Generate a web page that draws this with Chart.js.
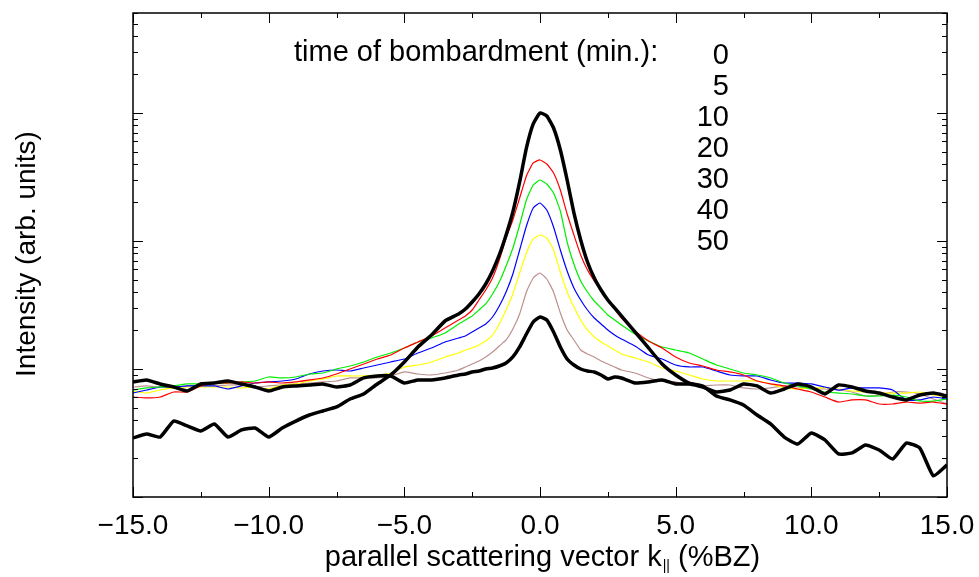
<!DOCTYPE html>
<html>
<head>
<meta charset="utf-8">
<script src="https://cdn.jsdelivr.net/npm/chart.js@4.4.0/dist/chart.umd.min.js"></script>
<style>
    html, body { margin: 0; padding: 0; background: #fff; }
</style>
</head>
<body>
<canvas id="myChart" width="979" height="577"></canvas>
<script>
// parallel scattering vector k (%BZ), shared by all curves
var kValues = [-15, -14.5, -14, -13.5, -13, -12.5, -12, -11.5, -11, -10.5, -10, -9.5, -9, -8.5, -8, -7.5,
    -7, -6.5, -6, -5.5, -5, -4.5, -4, -3.5,
    -3, -2.75, -2.5, -2.25, -2, -1.75, -1.5, -1.25, -1, -0.75, -0.5, -0.25, 0,
    0.25, 0.5, 0.75, 1, 1.25, 1.5, 1.75, 2, 2.25, 2.5, 2.75, 3,
    3.5, 4, 4.5, 5, 5.5, 6, 6.5, 7, 7.5, 8, 8.5, 9, 9.5, 10, 10.5, 11, 11.5, 12, 12.5, 13, 13.5, 14, 14.5, 15];

// intensity (arb. units) for each bombardment time
var int0 = [0.289, 0.311, 0.294, 0.392, 0.359, 0.328, 0.372, 0.294, 0.334, 0.346, 0.294, 0.346, 0.392, 0.437, 0.470, 0.505,
    0.583, 0.638, 0.764, 0.898, 1.134, 1.486, 1.843, 2.371,
    2.690, 2.943, 3.338, 3.855, 4.614, 5.830, 7.775, 11.14, 16.85, 28.90, 53.29, 82.04, 100,
    94.75, 76.35, 51.39, 29.95, 16.55, 10.18, 6.855, 5.140, 4.142, 3.460, 2.996, 2.595,
    1.946, 1.459, 1.094, 0.898, 0.777, 0.737, 0.615, 0.573, 0.523, 0.437, 0.372, 0.294, 0.259, 0.316, 0.279, 0.217, 0.221, 0.255, 0.233, 0.198, 0.264, 0.241, 0.146, 0.178];
var int5 = [0.604, 0.594, 0.604, 0.661, 0.661, 0.737, 0.777, 0.777, 0.792, 0.777, 0.792, 0.777, 0.792, 0.821, 0.851, 0.914,
    1.000, 1.094, 1.197, 1.286, 1.459, 1.625, 1.811, 2.091,
    2.414, 2.595, 2.890, 3.460, 4.142, 5.140, 7.106, 10.55, 14.59, 21.67, 32.19, 40.68, 42.94,
    39.96, 33.98, 25.02, 16.25, 11.14, 7.775, 5.936, 4.870, 4.142, 3.460, 2.943, 2.503,
    1.981, 1.655, 1.459, 1.241, 1.114, 1.055, 0.982, 0.948, 0.898, 0.806, 0.764, 0.737, 0.698, 0.661, 0.604, 0.552, 0.573, 0.573, 0.533, 0.533, 0.552, 0.542, 0.552, 0.533];
var int10 = [0.685, 0.711, 0.723, 0.737, 0.764, 0.764, 0.777, 0.777, 0.792, 0.806, 0.866, 0.851, 0.866, 0.914, 0.931, 1.000,
    1.055, 1.134, 1.241, 1.334, 1.459, 1.625, 1.747, 1.911,
    2.247, 2.414, 2.595, 2.890, 3.220, 3.855, 4.783, 6.378, 8.818, 13.34, 20.90, 27.38, 29.95,
    27.87, 23.71, 17.15, 9.823, 6.612, 4.870, 3.996, 3.398, 2.996, 2.642, 2.414, 2.207,
    1.877, 1.655, 1.486, 1.408, 1.334, 1.197, 1.075, 1.000, 0.931, 0.898, 0.851, 0.777, 0.737, 0.698, 0.661, 0.649, 0.638, 0.615, 0.615, 0.626, 0.604, 0.562, 0.562, 0.583];
var int20 = [0.649, 0.685, 0.723, 0.723, 0.737, 0.737, 0.737, 0.698, 0.737, 0.777, 0.792, 0.806, 0.835, 0.914, 0.965, 0.982,
    0.965, 1.018, 1.075, 1.134, 1.197, 1.334, 1.459, 1.625,
    1.747, 1.811, 1.946, 2.091, 2.247, 2.548, 3.106, 3.996, 5.524, 8.507, 13.10, 18.10, 19.81,
    17.46, 12.86, 8.507, 5.830, 4.294, 3.460, 2.890, 2.503, 2.247, 2.017, 1.843, 1.715,
    1.512, 1.286, 1.197, 1.075, 1.037, 1.037, 0.965, 0.898, 0.882, 0.882, 0.821, 0.777, 0.777, 0.764, 0.723, 0.685, 0.711, 0.711, 0.711, 0.685, 0.573, 0.573, 0.604, 0.583];
var int30 = [0.673, 0.649, 0.685, 0.711, 0.723, 0.723, 0.723, 0.723, 0.711, 0.723, 0.698, 0.750, 0.764, 0.806, 0.835, 0.882,
    0.882, 0.882, 0.898, 0.931, 1.037, 1.075, 1.134, 1.241,
    1.334, 1.408, 1.459, 1.540, 1.655, 1.843, 2.247, 2.890, 3.855, 5.624, 8.060, 10.37, 11.14,
    10.55, 8.507, 5.726, 3.996, 3.050, 2.414, 2.017, 1.778, 1.625, 1.512, 1.408, 1.310,
    1.219, 1.134, 1.018, 0.965, 0.898, 0.835, 0.806, 0.806, 0.806, 0.806, 0.764, 0.711, 0.698, 0.711, 0.711, 0.698, 0.673, 0.661, 0.649, 0.649, 0.649, 0.661, 0.626, 0.604];
var int40 = [0.723, 0.737, 0.723, 0.723, 0.737, 0.737, 0.737, 0.750, 0.750, 0.723, 0.737, 0.750, 0.764, 0.777, 0.792, 0.806,
    0.851, 0.851, 0.851, 0.882, 0.948, 0.914, 0.898, 0.931,
    0.982, 1.037, 1.094, 1.155, 1.241, 1.358, 1.512, 1.685, 2.054, 2.690, 3.996, 5.140, 5.624,
    5.048, 3.996, 2.738, 2.017, 1.685, 1.408, 1.310, 1.241, 1.155, 1.094, 1.037, 0.982,
    0.931, 0.851, 0.806, 0.792, 0.750, 0.737, 0.750, 0.750, 0.711, 0.698, 0.711, 0.737, 0.723, 0.698, 0.698, 0.685, 0.661, 0.615, 0.626, 0.661, 0.661, 0.638, 0.583, 0.533];
var int50 = [0.792, 0.821, 0.764, 0.723, 0.673, 0.764, 0.777, 0.806, 0.764, 0.723, 0.673, 0.723, 0.737, 0.750, 0.764, 0.723,
    0.750, 0.851, 0.882, 0.882, 0.777, 0.821, 0.821, 0.851,
    0.898, 0.914, 0.948, 0.965, 1.000, 1.018, 1.055, 1.114, 1.241, 1.486, 1.877, 2.329, 2.548,
    2.414, 1.946, 1.486, 1.197, 1.075, 1.000, 0.965, 0.948, 0.898, 0.835, 0.866, 0.851,
    0.777, 0.792, 0.821, 0.764, 0.764, 0.723, 0.661, 0.685, 0.764, 0.737, 0.649, 0.698, 0.764, 0.723, 0.638, 0.750, 0.723, 0.673, 0.649, 0.604, 0.573, 0.626, 0.649, 0.615];

var seriesList = [int0, int5, int10, int20, int30, int40, int50];
var seriesColors = ["#000000", "#ff0000", "#00ee00", "#0000ff", "#ffff00", "#bc8f8f", "#000000"];
var seriesWidths = [3.5, 1.2, 1.2, 1.2, 1.2, 1.2, 3.5];

var legendTitle = "time of bombardment (min.):";
var legendTimes = ["0", "5", "10", "20", "30", "40", "50"];

var xTicks = [-15, -10, -5, 0, 5, 10, 15];
var xTickLabels = ["\u221215.0", "\u221210.0", "\u22125.0", "0.0", "5.0", "10.0", "15.0"];
var xMinorTicks = [-12.5, -7.5, -2.5, 2.5, 7.5, 12.5];
var yDecades = [0.1, 1, 10, 100];

var FONT = "'Liberation Sans', Arial, Helvetica, sans-serif";

// inward tick marks on all 4 sides + the box
var frameTicks = {
    id: "frameTicks",
    afterDatasetsDraw: function (chart) {
        var ctx = chart.ctx;
        var a = chart.chartArea;
        var xs = chart.scales.x;
        var ys = chart.scales.y;
        ctx.save();
        ctx.strokeStyle = "#000";
        ctx.lineWidth = 1;
        ctx.beginPath();
        xTicks.forEach(function (v) {
            var px = Math.round(xs.getPixelForValue(v)) + 0.5;
            ctx.moveTo(px, a.bottom); ctx.lineTo(px, a.bottom - 10);
            ctx.moveTo(px, a.top); ctx.lineTo(px, a.top + 10);
        });
        xMinorTicks.forEach(function (v) {
            var px = Math.round(xs.getPixelForValue(v)) + 0.5;
            ctx.moveTo(px, a.bottom); ctx.lineTo(px, a.bottom - 5);
            ctx.moveTo(px, a.top); ctx.lineTo(px, a.top + 5);
        });
        yDecades.forEach(function (d) {
            for (var m = 1; m <= 9; m++) {
                var v = m * d;
                if (v > ys.max) break;
                var py = Math.round(ys.getPixelForValue(v)) + 0.5;
                var len = m === 1 ? 10 : 5;
                ctx.moveTo(a.left, py); ctx.lineTo(a.left + len, py);
                ctx.moveTo(a.right, py); ctx.lineTo(a.right - len, py);
            }
        });
        ctx.stroke();
        ctx.lineWidth = 1.5;
        ctx.strokeRect(a.left, a.top, a.right - a.left, a.bottom - a.top);
        ctx.restore();
    },
    afterDraw: function (chart) {
        var ctx = chart.ctx;
        ctx.save();
        ctx.fillStyle = "#000";

        // legend text
        ctx.font = "29px " + FONT;
        ctx.textAlign = "left";
        ctx.textBaseline = "alphabetic";
        ctx.fillText(legendTitle, 294, 61);
        ctx.textAlign = "right";
        legendTimes.forEach(function (t, i) {
            ctx.fillText(t, 729, 64 + i * 31);
        });

        // x title with subscript
        var s1 = "parallel scattering vector k";
        var sub = "||";
        var s2 = " (%BZ)";
        ctx.font = "29px " + FONT;
        var w1 = ctx.measureText(s1).width;
        var w3 = ctx.measureText(s2).width;
        ctx.font = "14px " + FONT;
        var w2 = ctx.measureText(sub).width;
        var x0 = 542 - (w1 + w2 + w3) / 2;
        ctx.textAlign = "left";
        ctx.font = "29px " + FONT;
        ctx.fillText(s1, x0, 566);
        ctx.font = "14px " + FONT;
        ctx.fillText(sub, x0 + w1 + 1, 570);
        ctx.font = "29px " + FONT;
        ctx.fillText(s2, x0 + w1 + w2 + 1, 566);

        // y title
        ctx.translate(35, 254);
        ctx.rotate(-Math.PI / 2);
        ctx.textAlign = "center";
        ctx.font = "28px " + FONT;
        ctx.fillText("Intensity (arb. units)", 0, 0);
        ctx.restore();
    }
};

var datasets = seriesList.map(function (arr, i) {
    return {
        label: legendTimes[i],
        data: kValues.map(function (k, j) { return { x: k, y: arr[j] }; }),
        borderColor: seriesColors[i],
        borderWidth: seriesWidths[i],
        pointRadius: 0,
        tension: 0.15,
        fill: false,
        order: seriesWidths[i] > 2 ? 0 : 1
    };
});

var ctx = document.getElementById("myChart");
var chart = new Chart(ctx, {
    type: "line",
    data: { datasets: datasets },
    options: {
        responsive: false,
        animation: false,
        layout: { padding: { top: 13, right: 32, left: 0, bottom: 0 } },
        plugins: {
            legend: { display: false },
            tooltip: { enabled: false }
        },
        scales: {
            x: {
                type: "linear",
                min: -15,
                max: 15,
                grid: { display: false, drawTicks: false },
                border: { display: false },
                afterBuildTicks: function (scale) {
                    scale.ticks = xTicks.map(function (v) { return { value: v }; });
                },
                ticks: {
                    color: "#000",
                    padding: 12,
                    maxRotation: 0,
                    autoSkip: false,
                    font: { family: FONT, size: 28 },
                    callback: function (value) {
                        var i = xTicks.indexOf(value);
                        return i >= 0 ? xTickLabels[i] : "";
                    }
                },
                afterFit: function (scale) {
                    scale.height = 80;
                    scale.paddingLeft = 0;
                    scale.paddingRight = 0;
                }
            },
            y: {
                type: "logarithmic",
                min: 0.1,
                max: 604,
                grid: { display: false, drawTicks: false },
                border: { display: false },
                ticks: { display: false },
                afterFit: function (scale) {
                    scale.width = 133;
                    scale.paddingTop = 0;
                    scale.paddingBottom = 0;
                }
            }
        }
    },
    plugins: [frameTicks]
});
</script>
</body>
</html>
